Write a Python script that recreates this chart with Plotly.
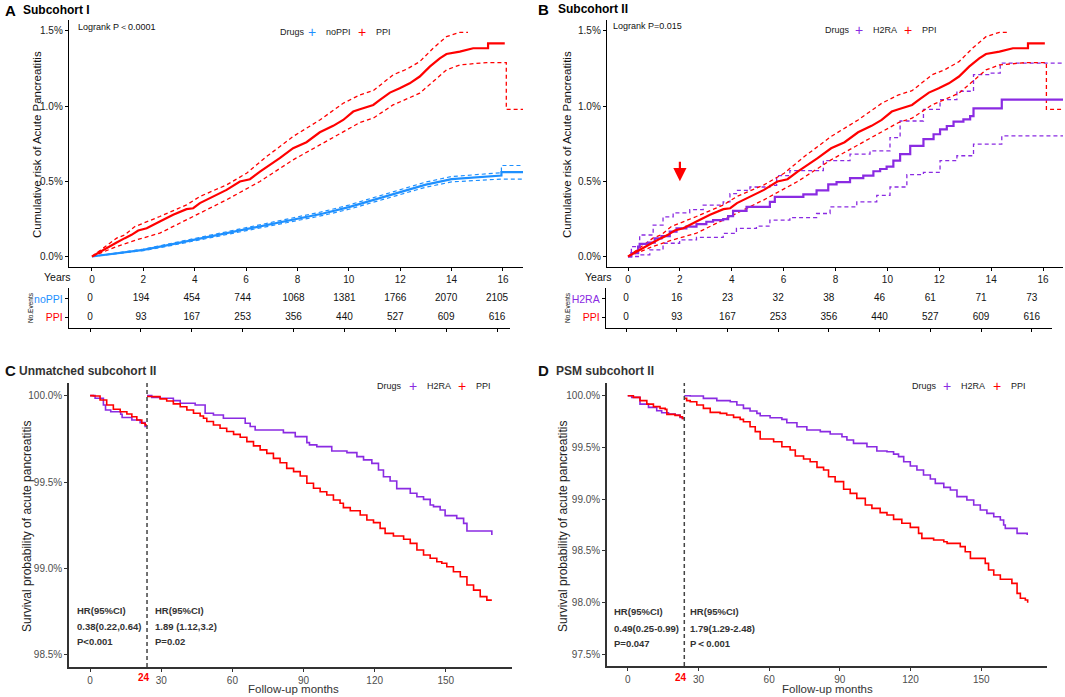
import plotly.graph_objects as go

W, H = 1065, 697
def fx(px): return px / W
def fy(py): return 1 - py / H

RED = "#FF0000"
BLUE = "#1E90FF"
PURPLE = "#8A2BE2"
FONT = "Liberation Sans, Arial, sans-serif"

# ---------------- data ----------------
YEARS = [0, 2, 4, 6, 8, 10, 12, 14, 16]
NOPPI_EVENTS = [0, 194, 454, 744, 1068, 1381, 1766, 2070, 2105]
PPI_EVENTS = [0, 93, 167, 253, 356, 440, 527, 609, 616]
H2RA_EVENTS = [0, 16, 23, 32, 38, 46, 61, 71, 73]

# cumulative risk (%) vs years, PPI (shared by panels A and B)
ppi_t = [0, 0.44, 0.96, 1.28, 1.54, 1.80, 2.13, 2.64, 3.16, 3.68, 3.94, 4.20, 4.72, 5.24, 5.76, 6.15, 6.54, 6.93, 7.31, 7.83,
         8.35, 8.87, 9.39, 9.78, 10.17, 10.43, 10.95, 11.21, 11.60, 11.98, 12.37, 12.76, 13.15, 13.54, 13.80, 14.32, 14.84, 15.42, 15.42, 16.07]
ppi_risk = [0, 0.044, 0.093, 0.122, 0.144, 0.173, 0.188, 0.233, 0.277, 0.315, 0.321, 0.355, 0.399, 0.443, 0.499, 0.514, 0.565, 0.609, 0.654, 0.720,
            0.760, 0.826, 0.869, 0.908, 0.964, 0.979, 1.008, 1.041, 1.090, 1.119, 1.152, 1.197, 1.263, 1.318, 1.347, 1.363, 1.385, 1.385, 1.418, 1.418]
ppi_up_t = [0, 0.96, 1.28, 1.67, 2.64, 3.68, 4.20, 5.24, 6.02, 6.80, 7.83, 8.87, 9.78, 10.43, 10.95, 11.72, 12.24, 12.76, 13.28, 13.80, 14.32, 14.64]
ppi_up = [0, 0.122, 0.144, 0.199, 0.266, 0.343, 0.399, 0.476, 0.554, 0.665, 0.798, 0.908, 1.019, 1.075, 1.103, 1.208, 1.245, 1.296, 1.385, 1.462, 1.491, 1.491]
ppi_lo_t = [0, 0.96, 1.74, 2.64, 3.94, 5.24, 6.54, 7.83, 8.87, 9.91, 10.43, 10.95, 11.72, 12.76, 13.28, 13.80, 14.32, 15.36, 16.13, 16.13, 16.78]
ppi_lo = [0, 0.066, 0.111, 0.155, 0.266, 0.377, 0.499, 0.643, 0.742, 0.842, 0.891, 0.920, 1.008, 1.086, 1.163, 1.241, 1.274, 1.290, 1.290, 0.979, 0.979]

# noPPI
nop_t = [0, 1, 2, 3, 4, 5, 6, 7, 8, 9, 10, 11, 12, 13, 14, 15, 15.94, 15.94, 16.78]
nop_risk = [0, 0.020, 0.044, 0.077, 0.111, 0.146, 0.182, 0.215, 0.248, 0.286, 0.328, 0.378, 0.432, 0.478, 0.514, 0.528, 0.538, 0.561, 0.561]
nop_up = [0, 0.023, 0.049, 0.084, 0.119, 0.155, 0.192, 0.226, 0.260, 0.299, 0.342, 0.393, 0.448, 0.495, 0.532, 0.547, 0.557, 0.605, 0.605]
nop_lo = [0, 0.017, 0.039, 0.070, 0.103, 0.137, 0.172, 0.204, 0.236, 0.273, 0.314, 0.363, 0.416, 0.461, 0.496, 0.508, 0.515, 0.515, 0.515]

# H2RA (panel B)
h2_t = [0, 0.13, 0.39, 0.45, 0.77, 1.03, 1.29, 1.61, 1.87, 2.25, 2.64, 3.02, 3.28, 3.67, 3.86, 4.05, 4.57, 5.47, 5.66, 6.76,
        7.27, 7.72, 8.04, 8.56, 9.07, 9.46, 9.72, 9.97, 10.23, 10.49, 10.88, 11.39, 11.78, 12.03, 12.29, 12.55, 12.93, 13.19, 13.32, 14.41, 16.8]
h2_risk = [0, 0.022, 0.066, 0.084, 0.092, 0.121, 0.136, 0.165, 0.187, 0.198, 0.215, 0.231, 0.242, 0.248, 0.268, 0.303, 0.330, 0.363, 0.396, 0.413,
           0.440, 0.479, 0.495, 0.521, 0.538, 0.567, 0.582, 0.598, 0.637, 0.681, 0.736, 0.780, 0.813, 0.846, 0.868, 0.897, 0.912, 0.934, 0.985, 1.044, 1.044]
h2u_t = [0, 0.13, 0.45, 0.97, 1.35, 1.74, 2.38, 2.90, 3.67, 3.93, 4.18, 4.70, 5.47, 5.73, 6.24, 7.53, 8.56, 9.33, 10.10, 10.49,
         11.39, 12.03, 12.68, 13.32, 13.96, 14.35, 16.8]
h2u = [0, 0.066, 0.143, 0.209, 0.264, 0.290, 0.312, 0.341, 0.363, 0.418, 0.440, 0.462, 0.473, 0.538, 0.571, 0.637, 0.681, 0.703, 0.791, 0.901,
       0.978, 1.044, 1.099, 1.209, 1.220, 1.286, 1.286]
h2l_t = [0, 0.45, 0.84, 1.35, 1.99, 2.64, 3.67, 4.18, 4.95, 5.47, 6.24, 7.27, 7.79, 8.82, 9.59, 10.10, 10.75, 11.39, 12.03, 12.68, 13.32, 14.41, 16.8]
h2l = [0, 0.011, 0.044, 0.088, 0.110, 0.127, 0.154, 0.187, 0.202, 0.242, 0.259, 0.286, 0.330, 0.363, 0.407, 0.462, 0.545, 0.560, 0.637, 0.670, 0.747, 0.802, 0.802]

CUTOFF_MONTH = 24
ARROW_YEAR, ARROW_TIP, ARROW_TAIL = 2, 0.50, 0.64

# Panel C: survival (%) vs months, unmatched
C_h2_t1 = [0, 2.1, 5.6, 6.5, 8.7, 12.9, 13.5, 17.6, 21.1, 23.2, 24]
C_h2_s1 = [100, 99.985, 99.946, 99.917, 99.907, 99.892, 99.873, 99.859, 99.844, 99.821, 99.821]
C_ppi_t1 = [0, 1.4, 4.2, 7.0, 9.8, 12.7, 15.5, 17.6, 19.7, 21.8, 23.2, 24]
C_ppi_s1 = [100, 99.998, 99.975, 99.946, 99.921, 99.907, 99.894, 99.878, 99.859, 99.840, 99.830, 99.830]
C_h2_t2 = [24, 26.0, 29.5, 35.1, 38.0, 44.3, 48.5, 52.0, 56.2, 65.4, 67.5, 69.6, 81.5, 86.5, 91.4, 92.5, 95.6, 101.9, 108.3, 112.5,
           115.3, 118.8, 121.6, 123.7, 126.5, 129.3, 135.0, 137.8, 140.6, 143.4, 144.8, 147.6, 149.7, 154.6, 157.5, 158.9, 169.4]
C_h2_s2 = [100.0, 99.99, 99.985, 99.971, 99.956, 99.946, 99.898, 99.888, 99.869, 99.840, 99.821, 99.801, 99.786, 99.763, 99.728, 99.715, 99.705, 99.680, 99.670, 99.647,
           99.628, 99.608, 99.570, 99.531, 99.506, 99.462, 99.435, 99.415, 99.400, 99.367, 99.358, 99.338, 99.306, 99.290, 99.261, 99.217, 99.194]
C_ppi_t2 = [24, 26.7, 29.5, 32.3, 35.1, 38.0, 40.8, 43.6, 46.4, 47.8, 49.2, 52.0, 54.8, 57.6, 60.5, 63.3, 66.1, 68.9, 71.7, 74.5,
            77.3, 80.1, 82.9, 85.8, 88.6, 91.4, 94.2, 97.0, 99.8, 102.6, 105.4, 106.8, 109.7, 113.9, 116.7, 119.5, 122.3, 124.4, 127.9, 132.2,
            135.0, 137.8, 140.6, 143.4, 146.2, 148.3, 150.4, 153.2, 156.1, 158.9, 161.7, 164.5, 167.3, 169.4]
C_ppi_s2 = [99.995, 99.994, 99.981, 99.969, 99.952, 99.936, 99.917, 99.898, 99.882, 99.869, 99.850, 99.830, 99.811, 99.792, 99.776, 99.759, 99.734, 99.709, 99.686, 99.666,
            99.637, 99.612, 99.579, 99.560, 99.535, 99.493, 99.464, 99.444, 99.425, 99.396, 99.377, 99.352, 99.334, 99.309, 99.280, 99.265, 99.232, 99.203, 99.188, 99.169,
            99.145, 99.107, 99.078, 99.059, 99.039, 99.030, 99.010, 98.981, 98.952, 98.904, 98.875, 98.837, 98.817, 98.817]

# Panel D: survival (%) vs months, PSM
D_h2_t1 = [0, 1.7, 5.2, 8.8, 12.3, 14.4, 17.3, 20.1, 22.2, 23.2, 24]
D_h2_s1 = [100, 99.984, 99.919, 99.887, 99.855, 99.835, 99.823, 99.813, 99.790, 99.781, 99.781]
D_ppi_t1 = [0, 2.4, 5.2, 8.1, 10.9, 13.7, 15.9, 16.6, 20.1, 22.2, 23.2, 24]
D_ppi_s1 = [100, 99.984, 99.952, 99.919, 99.894, 99.877, 99.868, 99.819, 99.810, 99.797, 99.781, 99.781]
D_h2_t2 = [24, 26.5, 32.1, 37.8, 43.5, 46.3, 49.1, 51.9, 54.8, 56.2, 60.4, 65.4, 67.5, 71.8, 76.0, 81.7, 85.9, 90.9, 93.0, 95.8,
           101.5, 105.7, 110.0, 112.8, 114.9, 117.1, 119.9, 122.7, 125.5, 128.4, 130.5, 134.1, 136.9, 139.7, 143.9, 146.8, 149.6, 152.4, 155.3, 158.1,
           159.5, 160.2, 165.2, 169.5]
D_h2_s2 = [100.0, 99.997, 99.974, 99.952, 99.942, 99.910, 99.877, 99.852, 99.829, 99.806, 99.787, 99.771, 99.739, 99.700, 99.668, 99.652, 99.629, 99.603, 99.571, 99.539,
           99.506, 99.465, 99.458, 99.435, 99.410, 99.361, 99.319, 99.281, 99.232, 99.194, 99.152, 99.113, 99.087, 99.023, 98.990, 98.942, 98.894, 98.861, 98.829, 98.797,
           98.748, 98.716, 98.668, 98.652]
D_ppi_t2 = [24, 25.0, 26.5, 29.3, 32.1, 35.0, 39.2, 42.0, 44.9, 47.7, 49.1, 51.9, 54.1, 56.2, 61.9, 65.4, 68.9, 71.1, 74.6, 77.4,
            80.3, 83.1, 85.2, 88.0, 91.6, 94.4, 97.2, 100.8, 103.6, 107.1, 110.0, 112.8, 116.3, 119.9, 123.4, 124.8, 129.8, 134.1, 135.5, 141.1,
            143.2, 145.4, 151.7, 153.1, 155.3, 158.1, 163.0, 165.2, 166.6, 168.7, 169.7]
D_ppi_s2 = [99.974, 99.952, 99.942, 99.910, 99.877, 99.839, 99.829, 99.813, 99.790, 99.771, 99.748, 99.700, 99.652, 99.581, 99.555, 99.506, 99.474, 99.416, 99.387, 99.361,
            99.306, 99.281, 99.216, 99.168, 99.094, 99.055, 99.006, 98.942, 98.910, 98.868, 98.845, 98.803, 98.765, 98.726, 98.668, 98.619, 98.603, 98.587, 98.571, 98.539,
            98.490, 98.426, 98.377, 98.313, 98.265, 98.223, 98.184, 98.087, 98.039, 98.023, 97.997]

# ---------------- figure ----------------
fig = go.Figure()

def line(x, y, color, xa, ya, dash=None, width=2.0, shape="linear"):
    fig.add_trace(go.Scatter(x=x, y=y, mode="lines", xaxis=xa, yaxis=ya, showlegend=False, hoverinfo="skip",
                             line=dict(color=color, width=width, dash=dash, shape=shape)))

def table_row(vals, row, xa, ya):
    fig.add_trace(go.Scatter(x=YEARS, y=[row] * len(YEARS), mode="text", text=[str(v) for v in vals],
                             textfont=dict(size=10, color="#111", family=FONT), xaxis=xa, yaxis=ya,
                             showlegend=False, hoverinfo="skip"))

DASH = "4px,3px"
# Panel A
line(nop_t, nop_up, BLUE, "x", "y", dash=DASH, width=1.2)
line(nop_t, nop_lo, BLUE, "x", "y", dash=DASH, width=1.2)
line(nop_t, nop_risk, BLUE, "x", "y", width=2.2)
line(ppi_up_t, ppi_up, RED, "x", "y", dash=DASH, width=1.3)
line(ppi_lo_t, ppi_lo, RED, "x", "y", dash=DASH, width=1.3)
line(ppi_t, ppi_risk, RED, "x", "y", width=2.2)
table_row(NOPPI_EVENTS, 1, "x2", "y2")
table_row(PPI_EVENTS, 0, "x2", "y2")

# Panel B
line(h2u_t, h2u, PURPLE, "x3", "y3", dash=DASH, width=1.3, shape="hv")
line(h2l_t, h2l, PURPLE, "x3", "y3", dash=DASH, width=1.3, shape="hv")
line(ppi_up_t, ppi_up, RED, "x3", "y3", dash=DASH, width=1.3)
line(ppi_lo_t, ppi_lo, RED, "x3", "y3", dash=DASH, width=1.3)
line(h2_t, h2_risk, PURPLE, "x3", "y3", width=2.2, shape="hv")
line(ppi_t, ppi_risk, RED, "x3", "y3", width=2.2)
table_row(H2RA_EVENTS, 1, "x4", "y4")
table_row(PPI_EVENTS, 0, "x4", "y4")

# Panel C
line(C_h2_t1, C_h2_s1, PURPLE, "x5", "y5", width=1.6, shape="hv")
line(C_ppi_t1, C_ppi_s1, RED, "x5", "y5", width=1.6, shape="hv")
line(C_h2_t2, C_h2_s2, PURPLE, "x5", "y5", width=1.6, shape="hv")
line(C_ppi_t2, C_ppi_s2, RED, "x5", "y5", width=1.6, shape="hv")

# Panel D
line(D_h2_t1, D_h2_s1, PURPLE, "x6", "y6", width=1.6, shape="hv")
line(D_ppi_t1, D_ppi_s1, RED, "x6", "y6", width=1.6, shape="hv")
line(D_h2_t2, D_h2_s2, PURPLE, "x6", "y6", width=1.6, shape="hv")
line(D_ppi_t2, D_ppi_s2, RED, "x6", "y6", width=1.6, shape="hv")

# ---------------- axes ----------------
def ax(domain, rng, **kw):
    d = dict(domain=domain, range=rng, showgrid=False, zeroline=False, showline=True, linecolor="black",
             linewidth=1.2, ticks="outside", ticklen=3, tickcolor="black", tickwidth=1,
             tickfont=dict(size=10, color="#1a1a1a", family=FONT), fixedrange=True)
    d.update(kw)
    return d

GREY_AX = dict(linecolor="#333333", linewidth=1.8, tickcolor="#333333", ticklen=3,
               tickfont=dict(size=10, color="#4D4D4D", family=FONT))

pct_ab = dict(tickvals=[0, 0.5, 1.0, 1.5], ticktext=["0.0%", "0.5%", "1.0%", "1.5%"])
lab = lambda t, c: f"<span style='color:{c}'>{t}</span>"

fig.update_layout(
    xaxis=ax([fx(69), fx(523)], [-0.895, 16.78], anchor="y", tickvals=YEARS, ticktext=[str(v) for v in YEARS]),
    yaxis=ax([fy(267), fy(20)], [-0.07, 1.573], anchor="x", **pct_ab),
    xaxis2=ax([fx(69), fx(510)], [-0.83, 16.51], anchor="y2", tickvals=YEARS, showticklabels=False),
    yaxis2=ax([fy(328), fy(288)], [-0.61, 1.61], anchor="x2", tickvals=[0, 1],
              ticktext=[lab("PPI", RED), lab("noPPI", BLUE)], tickfont=dict(size=10.5, family=FONT)),
    xaxis3=ax([fx(607), fx(1063)], [-0.81, 16.77], anchor="y3", tickvals=YEARS, ticktext=[str(v) for v in YEARS]),
    yaxis3=ax([fy(267), fy(20)], [-0.07, 1.573], anchor="x3", **pct_ab),
    xaxis4=ax([fx(606), fx(1052)], [-0.79, 16.8], anchor="y4", tickvals=YEARS, showticklabels=False),
    yaxis4=ax([fy(328), fy(288)], [-0.61, 1.61], anchor="x4", tickvals=[0, 1],
              ticktext=[lab("PPI", RED), lab("H2RA", PURPLE)], tickfont=dict(size=10.5, family=FONT)),
    xaxis5=ax([fx(69), fx(512)], [-8.9, 177.9], anchor="y5", tickvals=[0, 30, 60, 90, 120, 150], **GREY_AX),
    yaxis5=ax([fy(667), fy(383)], [98.43, 100.073], anchor="x5", tickvals=[98.5, 99.0, 99.5, 100.0],
              ticktext=["98.5%", "99.0%", "99.5%", "100.0%"], **GREY_AX),
    xaxis6=ax([fx(607), fx(1047)], [-8.8, 177.9], anchor="y6", tickvals=[0, 30, 60, 90, 120, 150], **GREY_AX),
    yaxis6=ax([fy(666), fy(383)], [97.384, 100.123], anchor="x6", tickvals=[97.5, 98.0, 98.5, 99.0, 99.5, 100.0],
              ticktext=["97.5%", "98.0%", "98.5%", "99.0%", "99.5%", "100.0%"], **GREY_AX),
)

# ---------------- annotations ----------------
ann = []
def txt(text, x, y, size=10, color="#111", xanchor="left", yanchor="middle", angle=0, xref="paper", yref="paper", xshift=0):
    ann.append(dict(text=text, x=x, y=y, xref=xref, yref=yref, xanchor=xanchor, yanchor=yanchor, showarrow=False,
                    textangle=angle, xshift=xshift, font=dict(size=size, color=color, family=FONT)))

# legends ("Drugs  + name  + name")
LEGENDS = [
    (32, [("Drugs", None, 278), ("noPPI", BLUE, 312), ("PPI", RED, 362)]),
    (30, [("Drugs", None, 823), ("H2RA", PURPLE, 859), ("PPI", RED, 908)]),
    (386, [("Drugs", None, 375), ("H2RA", PURPLE, 413), ("PPI", RED, 462)]),
    (386, [("Drugs", None, 910), ("H2RA", PURPLE, 947), ("PPI", RED, 997)]),
]
for ly, items in LEGENDS:
    for name, col, lx in items:
        if col is None:
            txt(name, fx(lx), fy(ly), size=9, color="#222")
        else:
            txt("+", fx(lx), fy(ly), size=14, color=col, xanchor="center")
            txt(name, fx(lx + 12), fy(ly), size=9, color="#222")

# titles
txt("<b>A</b>", fx(3), fy(10), size=15, color="#000")
txt("<b>Subcohort I</b>", fx(21), fy(10), size=12, color="#000")
txt("<b>B</b>", fx(536), fy(9), size=15, color="#000")
txt("<b>Subcohort II</b>", fx(556), fy(9), size=12, color="#000")
txt("<b>C</b>", fx(3), fy(371), size=15, color="#111")
txt("<b>Unmatched subcohort II</b>", fx(17), fy(371), size=12, color="#333")
txt("<b>D</b>", fx(536), fy(371), size=15, color="#111")
txt("<b>PSM subcohort II</b>", fx(554), fy(371), size=12, color="#333")

# y titles
txt("Cumulative risk of Acute Pancreatitis", fx(37), fy(145), size=11.5, color="#111", xanchor="center", angle=-90)
txt("Cumulative risk of Acute Pancreatitis", fx(567), fy(145), size=11.5, color="#111", xanchor="center", angle=-90)
txt("Survival probability of acute pancreatitis", fx(27), fy(527), size=12, color="#222", xanchor="center", angle=-90)
txt("Survival probability of acute pancreatitis", fx(563), fy(527), size=12, color="#222", xanchor="center", angle=-90)

# logrank
txt("Logrank P＜0.0001", fx(76), fy(27), size=9)
txt("Logrank P=0.015", fx(611), fy(26), size=9)

# risk table labels
txt("Years", fx(57), fy(277), size=10.5, xanchor="center")
txt("Years", fx(598), fy(277), size=10.5, xanchor="center")
txt("No.Events", fx(30), fy(308), size=6.5, xanchor="center", angle=-90)
txt("No.Events", fx(567), fy(308), size=6.5, xanchor="center", angle=-90)

# HR blocks
for (xl, xr, ys, left, right) in [
    (75, 153, (610, 626, 641), ["HR(95%CI)", "0.38(0.22,0.64)", "P<0.001"], ["HR(95%CI)", "1.89 (1.12,3.2)", "P=0.02"]),
    (612, 688, (611, 628, 643), ["HR(95%CI)", "0.49(0.25-0.99)", "P=0.047"], ["HR(95%CI)", "1.79(1.29-2.48)", "P＜0.001"]),
]:
    for yy, a, b in zip(ys, left, right):
        txt(f"<b>{a}</b>", fx(xl), fy(yy), size=9.5, color="#333")
        txt(f"<b>{b}</b>", fx(xr), fy(yy), size=9.5, color="#333")

# red 24 tick labels and x titles
txt("<b>24</b>", CUTOFF_MONTH, fy(677), size=10, color=RED, xanchor="center", xref="x5", xshift=-3)
txt("<b>24</b>", CUTOFF_MONTH, fy(677), size=10, color=RED, xanchor="center", xref="x6", xshift=-3)
txt("Follow-up months", fx(293), fy(696.5), size=11.5, color="#333", xanchor="center", yanchor="bottom")
txt("Follow-up months", fx(827), fy(696.5), size=11.5, color="#333", xanchor="center", yanchor="bottom")

# arrow in B
ann.append(dict(x=ARROW_YEAR, y=ARROW_TIP, ax=ARROW_YEAR, ay=ARROW_TAIL, xref="x3", yref="y3", axref="x3", ayref="y3",
                text="", showarrow=True, arrowhead=2, arrowsize=1.2, arrowwidth=2.2, arrowcolor=RED))

shapes = [
    dict(type="line", xref="x5", yref="y5 domain", x0=CUTOFF_MONTH, x1=CUTOFF_MONTH, y0=0, y1=1,
         line=dict(color="#444", width=1.5, dash=DASH)),
    dict(type="line", xref="x6", yref="y6 domain", x0=CUTOFF_MONTH, x1=CUTOFF_MONTH, y0=0, y1=1,
         line=dict(color="#444", width=1.5, dash=DASH)),
]

fig.update_layout(annotations=ann, shapes=shapes, width=W, height=H, margin=dict(l=0, r=0, t=0, b=0),
                  showlegend=False, paper_bgcolor="white", plot_bgcolor="white",
                  font=dict(family=FONT, size=10, color="#111"))

fig.write_html("out.html", config={"displayModeBar": False, "staticPlot": True},
               post_script="document.body.style.margin='0';document.body.style.overflow='hidden';")
